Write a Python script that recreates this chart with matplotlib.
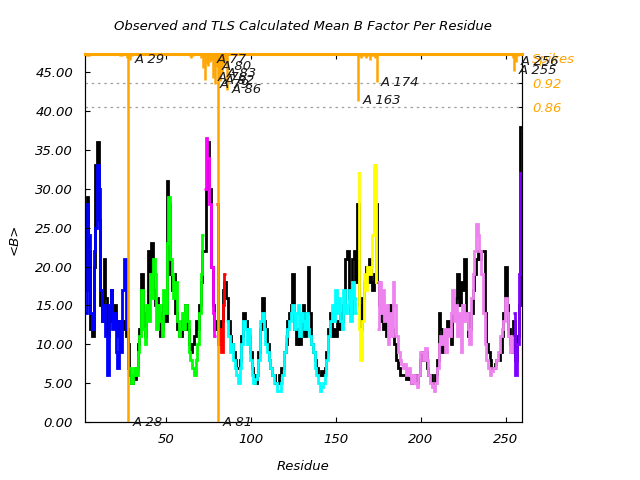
import numpy as np
import matplotlib
matplotlib.use('Agg')
import matplotlib.pyplot as plt

plt.rcParams['font.family'] = 'DejaVu Sans'
plt.rcParams['font.style'] = 'italic'
plt.rcParams['font.size'] = 9

# residues 3..259, TLS groups (first residue, last residue, colour)
residues = list(range(3, 260))
segments = [(3, 28, '#0000ff'), (29, 72, '#00ff00'), (73, 79, '#ff00ff'),
            (80, 85, '#ff0000'), (86, 162, '#00ffff'), (163, 174, '#ffff00'),
            (175, 254, '#ee82ee'), (255, 259, '#8000ff')]

# observed mean B per residue
obs_b = [
    # 3-28
    17, 29, 22, 12, 11, 20, 33, 36, 26, 15, 13, 21, 16, 11, 13, 17, 14, 15, 12, 11,
    13, 12, 13, 12, 11, 10,
    # 29-72
    6, 5, 6, 5.5, 7, 10, 12, 19, 14, 11, 14, 22, 18, 23, 17, 15, 16, 14, 11, 12,
    15, 13, 31, 28, 19, 17, 19, 14, 12, 11, 11, 13, 12, 15, 12, 10, 9, 10, 11, 13,
    12, 15, 18, 22,
    # 73-79
    22, 30, 36, 30, 20, 15, 12,
    # 80-85
    13, 12, 10, 13, 17, 18,
    # 86-162
    16, 13, 11, 10, 9, 8, 7, 7, 8, 11,
    14, 13, 12, 11, 9, 7, 6, 5, 6, 9,
    12, 16, 13, 12, 10, 8, 7, 6, 6, 5,
    5, 6, 7, 7, 9, 10, 13, 14, 15, 19,
    12, 10, 12, 10, 13, 15, 11, 14, 20, 14,
    10, 9, 8, 7, 6, 6, 6.5, 6, 7, 9,
    12, 14, 11, 12, 11, 13, 12, 14, 13, 15,
    21, 22, 16, 14, 21, 22, 18,
    # 163-174
    28, 15, 12, 16, 18, 20, 18, 21, 18, 17, 19, 28,
    # 175-254
    18, 15, 13, 12, 14, 11, 13, 15, 12, 11,
    10, 8, 7, 6, 6, 6, 6, 5.5, 6, 5.5,
    5, 5.5, 6, 5, 6, 8, 9, 8, 9, 7,
    6, 6, 5, 5, 6, 8, 14, 12, 9, 10,
    11, 13, 12, 10, 14, 15, 16, 19, 15, 18,
    17, 21, 14, 11, 12, 14, 17, 19, 21, 22,
    21, 22, 22, 14, 10, 9, 8, 7, 7, 7.5,
    8, 8, 9, 11, 14, 20, 15, 12, 10, 9,
    # 255-259
    13, 8, 11, 15, 38,
]

# TLS calculated mean B per residue
tls_b = [
    # 3-28
    14, 28, 24, 14, 12, 22, 25, 33, 30, 17, 13, 15, 11, 6, 15, 17, 12, 14, 9, 7,
    13, 9, 17, 21, 12, 7,
    # 29-72
    7, 5, 6, 7, 6, 9, 11, 17, 12, 10, 15, 13, 19, 16, 21, 19, 12, 15, 13, 11,
    17, 14, 23, 29, 21, 19, 16, 18, 13, 11, 12, 14, 12, 15, 13, 9, 8, 7, 6, 8,
    10, 14, 19, 24,
    # 73-79
    30, 36.5, 34, 28, 20, 14, 11,
    # 80-85
    28, 10, 12, 9, 15, 19,
    # 86-162
    13, 11, 9, 10, 8, 7, 6, 5, 7, 10,
    13, 12, 10, 12, 8, 6, 5, 5.5, 6, 8,
    13, 14, 12, 10, 9, 8, 7, 6, 5, 5,
    4, 4, 5, 6, 9, 11, 12, 13, 14, 15,
    12, 14, 15, 11, 14, 13, 12, 14, 12, 11,
    10, 9, 7, 6, 5, 4, 4.5, 5, 6, 8,
    11, 13, 15, 13, 17, 14, 16, 13, 12, 17,
    14, 15, 17, 13, 18, 16, 14,
    # 163-174
    32, 12, 8, 13, 19, 17, 20, 19, 20, 24, 33, 18,
    # 175-254
    12, 18, 14, 17, 13, 15, 10, 14, 11, 18,
    15, 11, 9, 8, 7.5, 7, 7.5, 6, 7, 6,
    5, 6, 5, 4.5, 6, 9, 9, 8, 9.5, 8,
    6, 5, 4.5, 4, 5, 7, 10, 11, 10, 12,
    9, 12, 11, 14, 17, 13, 15, 11, 14, 9,
    15, 13, 14, 12, 10, 16, 19, 22, 25.5, 24,
    22, 19, 14, 10, 8, 7, 6, 6.5, 7, 7,
    8, 9, 11, 12, 13, 16, 14, 11, 9, 11,
    # 255-259
    14, 6, 10, 19, 32,
]

# spikes (right hand scale, hanging from the top)
spike_res = [3, 4, 5, 23, 24, 27, 28, 29, 30, 64, 65, 66,
             71, 72, 73, 74, 75, 76, 77, 78, 79, 80, 81, 82, 83, 84, 85, 86,
             163, 164, 165, 166, 167, 168, 169, 170, 171, 172, 173, 174,
             254, 255, 256, 257]
spike_val = [0.99, 0.99, 0.99, 0.99, 0.99, 0.985, 0.0, 0.98, 0.99, 0.99, 0.985, 0.99,
             0.985, 0.96, 0.928, 0.97, 0.965, 0.975, 0.98, 0.934, 0.918, 0.962, 0.0,
             0.926, 0.946, 0.97, 0.975, 0.903,
             0.875, 0.99, 0.985, 0.99, 0.99, 0.985, 0.99, 0.98, 0.99, 0.99, 0.985, 0.923,
             0.985, 0.952, 0.975, 0.99]
labelled = [28, 29, 77, 80, 83, 78, 79, 82, 86, 81, 163, 174, 256, 255]

fig = plt.figure(figsize=(6.4, 4.8), dpi=100)
ax = fig.add_axes([85 / 640, 1 - 422 / 480, 437 / 640, 368.5 / 480])

r0 = residues[0]
ax.stairs(obs_b, np.arange(r0 - 0.5, residues[-1] + 1), baseline=None,
          color='black', lw=2.0)
for first, last, col in segments:
    vals = tls_b[first - r0:last - r0 + 1]
    ax.stairs(vals, np.arange(first - 0.5, last + 1), baseline=None, color=col, lw=2.0)

ax.set_xlim(2.5, 259.5)
ax.set_ylim(0, 47.4)
ax.set_yticks(np.arange(0, 46, 5))
ax.yaxis.set_major_formatter('{x:.2f}')
ax.set_xticks([50, 100, 150, 200, 250])
ax.tick_params(direction='in', top=True, right=True, length=3.5, labelsize=9.5)
ax.tick_params(axis='y', pad=8.5)
ax.tick_params(axis='x', pad=8)

ax2 = ax.twinx()
ylo = 0.0515
ax2.set_ylim(ylo, 0.9964)
ax2.axhline(0.92, color='#a0a0a0', lw=0.9, ls=(0, (2, 3)))
ax2.axhline(0.86, color='#a0a0a0', lw=0.9, ls=(0, (2, 3)))
ax2.vlines(spike_res, spike_val, 1.0, color='orange', lw=1.8)
ax2.set_yticks([0.92, 0.86])
ax2.set_yticklabels(['0.92', '0.86'])
ax2.tick_params(direction='in', length=3.5, pad=7.5, labelcolor='orange', labelsize=9.5)
ax2.spines['top'].set_color('orange')
ax2.spines['top'].set_linewidth(2.2)
ax2.annotate('Spikes', xy=(1.0, 0.98), xycoords=('axes fraction', 'data'),
             xytext=(7.5, 0), textcoords='offset points', va='center', ha='left',
             color='orange', fontsize=9.5)

for r, v in zip(spike_res, spike_val):
    if r in labelled:
        ax2.annotate(f'A {r}', xy=(r, max(v, ylo)), xytext=(3.3, 0),
                     textcoords='offset points', va='center', ha='left',
                     color='#1a1a1a', fontsize=9.5, annotation_clip=False)

fig.text(303 / 640, 1 - 27 / 480, 'Observed and TLS Calculated Mean B Factor Per Residue',
         ha='center', va='center', fontsize=9.5)
fig.text(303 / 640, 1 - 466 / 480, 'Residue', ha='center', va='center', fontsize=9.5)
fig.text(14 / 640, 1 - 239 / 480, '<B>', ha='center', va='center', rotation=90, fontsize=9.5)

fig.savefig('out.png', dpi=100)
